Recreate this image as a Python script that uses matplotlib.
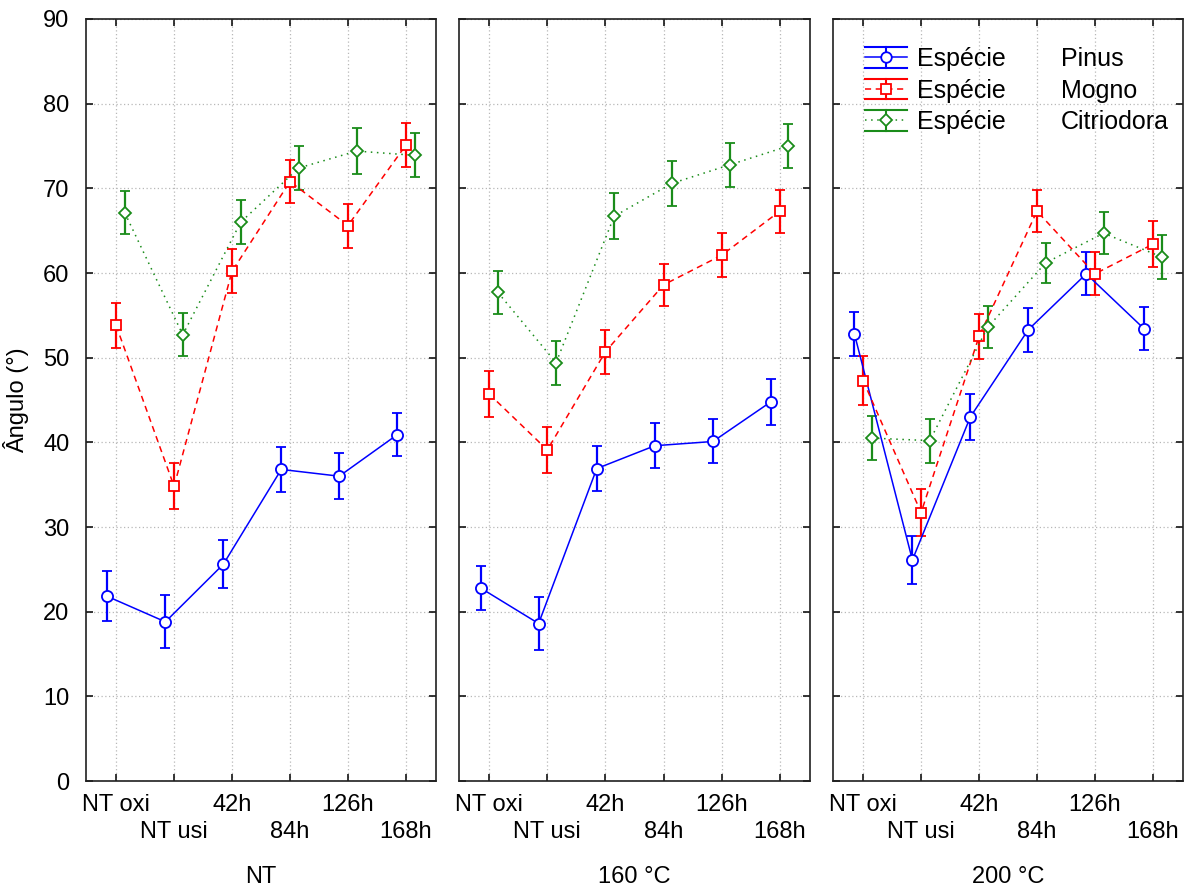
import numpy as np
import matplotlib
matplotlib.use("Agg")
import matplotlib.pyplot as plt
from matplotlib.legend_handler import HandlerBase
from matplotlib.lines import Line2D

plt.rcParams['font.family'] = ['Liberation Sans', 'DejaVu Sans']

categories: list = ["NT oxi", "NT usi", "42h", "84h", "126h", "168h"]
panels: list = ["NT", "160 °C", "200 °C"]
species: list = ["Pinus", "Mogno", "Citriodora"]

# mean angle per panel, per category
pinus = [
    [21.8, 18.8, 25.6, 36.8, 36.0, 40.9],
    [22.8, 18.6, 36.9, 39.6, 40.1, 44.8],
    [52.8, 26.1, 43.0, 53.3, 59.9, 53.4],
]
pinus_err = [
    [2.95, 3.15, 2.85, 2.7, 2.75, 2.55],
    [2.6, 3.1, 2.7, 2.65, 2.6, 2.7],
    [2.65, 2.8, 2.7, 2.6, 2.55, 2.55],
]
mogno = [
    [53.8, 34.8, 60.2, 70.8, 65.6, 75.1],
    [45.7, 39.1, 50.7, 58.6, 62.1, 67.3],
    [47.3, 31.7, 52.5, 67.3, 59.9, 63.4],
]
mogno_err = [
    [2.7, 2.7, 2.6, 2.55, 2.6, 2.6],
    [2.75, 2.75, 2.6, 2.5, 2.6, 2.55],
    [2.85, 2.8, 2.6, 2.5, 2.55, 2.75],
]
citriodora = [
    [67.1, 52.7, 66.0, 72.4, 74.4, 73.9],
    [57.7, 49.4, 66.7, 70.6, 72.8, 75.0],
    [40.5, 40.2, 53.6, 61.2, 64.7, 61.9],
]
citriodora_err = [
    [2.55, 2.55, 2.6, 2.6, 2.75, 2.6],
    [2.5, 2.6, 2.7, 2.65, 2.6, 2.55],
    [2.6, 2.6, 2.5, 2.4, 2.5, 2.6],
]

series = [
    (pinus, pinus_err, "#0000ff", "o", "-", -0.15, 8.0),
    (mogno, mogno_err, "#ff0000", "s", (0, (4, 3)), 0.0, 7.8),
    (citriodora, citriodora_err, "#1a8c1a", "D", (0, (1, 3)), 0.15, 6.3),
]


class WideCapHandler(HandlerBase):
    # legend key like the original: line + marker, with caps as wide as the key
    def __init__(self, color, ls, marker, ms):
        super().__init__()
        self.color, self.ls, self.marker, self.ms = color, ls, marker, ms

    def create_artists(self, legend, orig_handle, xdescent, ydescent,
                       width, height, fontsize, trans):
        x0, x1 = -xdescent, -xdescent + width
        yc = -ydescent + height / 2
        d = 0.58 * height
        xm = (x0 + x1) / 2
        arts = [
            Line2D([x0, x1], [yc, yc], color=self.color, linestyle=self.ls, linewidth=1.1),
            Line2D([xm, xm], [yc - d, yc + d], color=self.color, linewidth=1.5),
            Line2D([x0, x1], [yc + d, yc + d], color=self.color, linewidth=1.5),
            Line2D([x0, x1], [yc - d, yc - d], color=self.color, linewidth=1.5),
            Line2D([xm], [yc], marker=self.marker, markersize=self.ms * 0.95,
                   markerfacecolor="white", markeredgecolor=self.color,
                   markeredgewidth=1.3, linestyle="none"),
        ]
        for a in arts:
            a.set_transform(trans)
        return arts


W, H = 1187, 888
fig = plt.figure(figsize=(W / 100, H / 100), dpi=100)

lefts = [86, 459, 833]
widths = [350, 351, 350]
x = np.arange(len(categories))
fs = 17
lfs = 18

handles = []
for k in range(3):
    ax = fig.add_axes([lefts[k] / W, 107 / H, widths[k] / W, 762 / H])
    ax.grid(True, which="both", color="#b8b8b8", linestyle=(0, (1, 2)), linewidth=0.9)
    ax.set_axisbelow(True)

    for vals, errs, col, mk, ls, off, ms in series:
        h = ax.errorbar(x + off, vals[k], yerr=errs[k], color=col, marker=mk,
                        markersize=ms, markerfacecolor="white", markeredgecolor=col,
                        markeredgewidth=1.3, linestyle=ls, linewidth=1.1,
                        elinewidth=1.6, capsize=3.8, capthick=1.6)
        if k == 2:
            handles.append(h)

    ax.set_xlim(-0.52, 5.52)
    ax.set_ylim(0, 90)
    ax.set_yticks(range(0, 91, 10))
    # staggered labels: even categories on first row, odd ones on second row
    ax.set_xticks(x[::2])
    ax.set_xticklabels(categories[::2], fontsize=fs)
    ax.set_xticks(x[1::2], minor=True)
    ax.set_xticklabels(categories[1::2], minor=True, fontsize=fs)
    ax.tick_params(axis="both", which="both", direction="in", length=5, width=1.1,
                   top=True, right=True)
    ax.tick_params(axis="x", which="major", pad=9)
    ax.tick_params(axis="x", which="minor", pad=28.5)
    ax.tick_params(axis="y", labelsize=fs, pad=12)
    if k > 0:
        ax.set_yticklabels([])
    else:
        ax.set_ylabel("Ângulo (°)", fontsize=fs, labelpad=10)
    ax.set_xlabel(panels[k], fontsize=fs, labelpad=17)
    for s in ax.spines.values():
        s.set_linewidth(1.2)
        s.set_color("#202020")

    if k == 2:
        blank = [Line2D([], [], linestyle="none") for _ in species]
        hmap = {h: WideCapHandler(s[2], s[4], s[3], s[6]) for h, s in zip(handles, series)}
        ax.legend(handles + blank, ["Espécie"] * 3 + species, ncol=2,
                  loc="upper left", bbox_to_anchor=(0.091, 0.963),
                  frameon=False, fontsize=lfs, borderaxespad=0, borderpad=0,
                  handlelength=1.7, handletextpad=0.4, columnspacing=0.1,
                  labelspacing=0.3, handler_map=hmap)

plt.savefig("out.png", dpi=100)
